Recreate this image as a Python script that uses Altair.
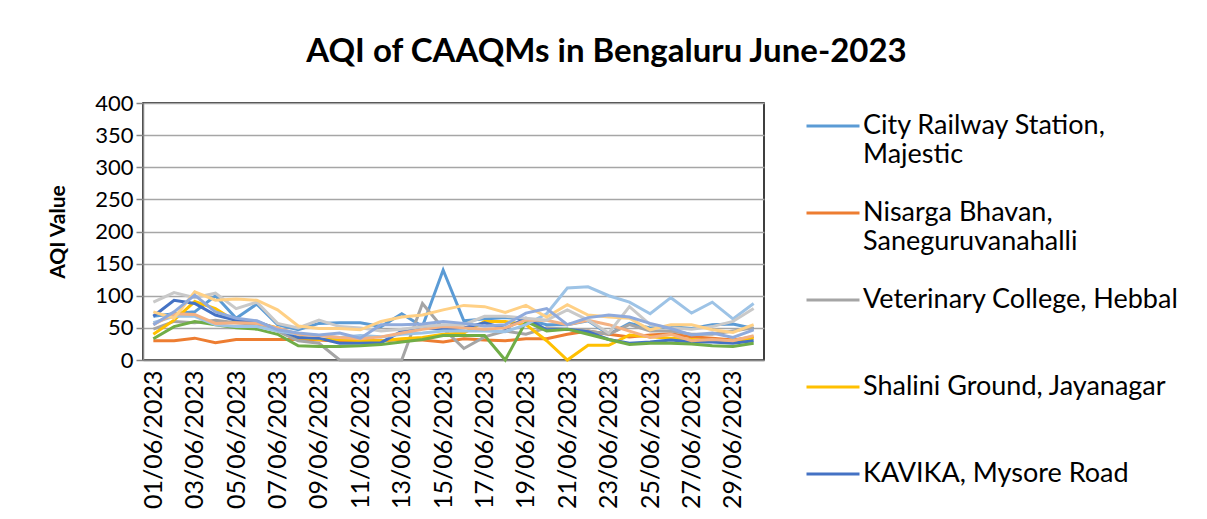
import altair as alt
import pandas as pd

dates = ["01/06/2023", "02/06/2023", "03/06/2023", "04/06/2023", "05/06/2023",
         "06/06/2023", "07/06/2023", "08/06/2023", "09/06/2023", "10/06/2023",
         "11/06/2023", "12/06/2023", "13/06/2023", "14/06/2023", "15/06/2023",
         "16/06/2023", "17/06/2023", "18/06/2023", "19/06/2023", "20/06/2023",
         "21/06/2023", "22/06/2023", "23/06/2023", "24/06/2023", "25/06/2023",
         "26/06/2023", "27/06/2023", "28/06/2023", "29/06/2023", "30/06/2023"]

tick_dates = ["01/06/2023", "03/06/2023", "05/06/2023", "07/06/2023", "09/06/2023",
              "11/06/2023", "13/06/2023", "15/06/2023", "17/06/2023", "19/06/2023",
              "21/06/2023", "23/06/2023", "25/06/2023", "27/06/2023", "29/06/2023"]

# "|" marks a line break in the legend label
stations = ["City Railway Station,|Majestic",
            "Nisarga Bhavan,|Saneguruvanahalli",
            "Veterinary College, Hebbal| ",
            "Shalini Ground, Jayanagar| ",
            "KAVIKA, Mysore Road| ",
            "Hombegowda Nagar| ",
            "Silk Board| ",
            "BTM Layout| ",
            "Bapuji Nagar| ",
            "Peenya| ",
            "BWSSB Kadabesanahalli| "]

colors = ["#5B9BD5", "#ED7D31", "#A5A5A5", "#FFC000", "#4472C4", "#70AD47",
          "#9DC3E6", "#F4B183", "#C9C9C9", "#FFD085", "#8FAADC"]

city_railway = [68, 72, 75, 100, 65, 87, 55, 47, 57, 58, 58, 52, 72, 52, 140,
                61, 64, 66, 63, 55, 55, 61, 40, 57, 50, 52, 49, 55, 56, 49]
nisarga = [30, 30, 34, 27, 32, 32, 32, 32, 31, 29, 30, 30, 32, 31, 28,
           33, 31, 30, 33, 33, 40, 45, 40, 36, 39, 41, 36, 34, 31, 36]
veterinary = [48, 60, 58, 62, 58, 55, 45, 30, 26, 0, 0, 0, 0, 88, 49,
              18, 36, 45, 40, 50, 48, 45, 40, 55, 45, 45, 40, 40, 45, 50]
shalini = [40, 62, 91, 80, 60, 58, 50, 35, 32, 32, 30, 30, 33, 35, 40,
           42, 60, 60, 55, 30, 0, 23, 23, 39, 36, 34, 32, 30, 30, 34]
kavika = [68, 93, 88, 70, 62, 60, 48, 35, 34, 26, 26, 27, 45, 50, 48,
          50, 58, 49, 65, 47, 48, 44, 32, 26, 28, 31, 28, 28, 26, 30]
hombegowda = [33, 52, 60, 55, 50, 48, 40, 22, 21, 21, 22, 24, 28, 32, 38,
              38, 38, 0, 60, 45, 48, 40, 32, 24, 26, 26, 25, 22, 21, 26]
silk_board = [58, 68, 68, 55, 52, 52, 45, 40, 38, 35, 38, 36, 40, 42, 45,
              45, 45, 44, 55, 72, 112, 114, 100, 90, 72, 97, 73, 90, 64, 88]
btm_layout = [55, 72, 71, 57, 58, 57, 50, 40, 38, 35, 33, 36, 42, 48, 52,
              50, 48, 50, 62, 62, 55, 62, 55, 45, 35, 40, 30, 32, 30, 38]
bapuji_nagar = [90, 105, 97, 104, 80, 90, 57, 50, 62, 52, 50, 45, 48, 52, 55,
                55, 68, 68, 65, 62, 78, 62, 42, 83, 55, 50, 48, 52, 60, 80]
peenya = [75, 65, 106, 93, 95, 93, 78, 53, 49, 49, 47, 60, 67, 70, 78,
          85, 83, 74, 85, 67, 86, 70, 67, 65, 47, 55, 55, 47, 43, 55]
bwssb = [55, 75, 101, 75, 65, 61, 47, 42, 39, 42, 34, 55, 55, 56, 60,
         57, 53, 55, 73, 80, 55, 66, 70, 67, 57, 49, 39, 42, 35, 47]

series = [city_railway, nisarga, veterinary, shalini, kavika, hombegowda,
          silk_board, btm_layout, bapuji_nagar, peenya, bwssb]

rows = []
for name, vals in zip(stations, series):
    for d, v in zip(dates, vals):
        rows.append({"date": d, "station": name, "value": v})
df = pd.DataFrame(rows)

FONT = "Lato"

chart = alt.Chart(df).mark_line(strokeWidth=3).encode(
    x=alt.X("date:N", sort=dates,
            scale=alt.Scale(type="point", padding=0.5),
            axis=alt.Axis(values=tick_dates, labelAngle=-90, ticks=False, title=None,
                          labelFontSize=25, labelFont=FONT, labelColor="#000000",
                          labelPadding=10, domainColor="#868686", domainWidth=1.5,
                          grid=False, labelAlign="right", labelBaseline="middle")),
    y=alt.Y("value:Q",
            scale=alt.Scale(domain=[0, 400], nice=False),
            axis=alt.Axis(values=[0, 50, 100, 150, 200, 250, 300, 350, 400],
                          title="AQI Value", titleFontSize=21, titleFont=FONT,
                          titleFontWeight="bold", titleColor="#000000",
                          labelFontSize=22, labelFont=FONT, labelColor="#000000",
                          tickSize=7, tickColor="#868686", tickWidth=1.5,
                          grid=True, gridColor="#A6A6A6", gridWidth=1.3,
                          domainColor="#868686", domainWidth=1.5,
                          labelPadding=3, titlePadding=26)),
    color=alt.Color("station:N", sort=stations,
                    scale=alt.Scale(domain=stations, range=colors),
                    legend=alt.Legend(orient="none", legendX=662, legendY=-5,
                                      title=None, symbolType="stroke",
                                      symbolSize=2809, symbolStrokeWidth=3,
                                      labelFontSize=27, labelFont=FONT,
                                      labelColor="#000000", labelLimit=400,
                                      labelOffset=2, rowPadding=17, padding=0,
                                      labelBaseline="middle",
                                      labelExpr="split(datum.label, '|')")),
).properties(
    width=621,
    height=257,
    title=alt.TitleParams("AQI of CAAQMs in Bengaluru June-2023", fontSize=33,
                          font=FONT, fontWeight="bold", color="#000000",
                          anchor="middle", dx=153, offset=23),
    autosize=alt.AutoSizeParams(type="none"),
    padding={"left": 135, "top": 95, "right": 435, "bottom": 151},
    background="#ffffff",
).configure_view(stroke="#000000", strokeWidth=1.5)

chart.save("out.html", embed_options={"renderer": "svg", "actions": False})
